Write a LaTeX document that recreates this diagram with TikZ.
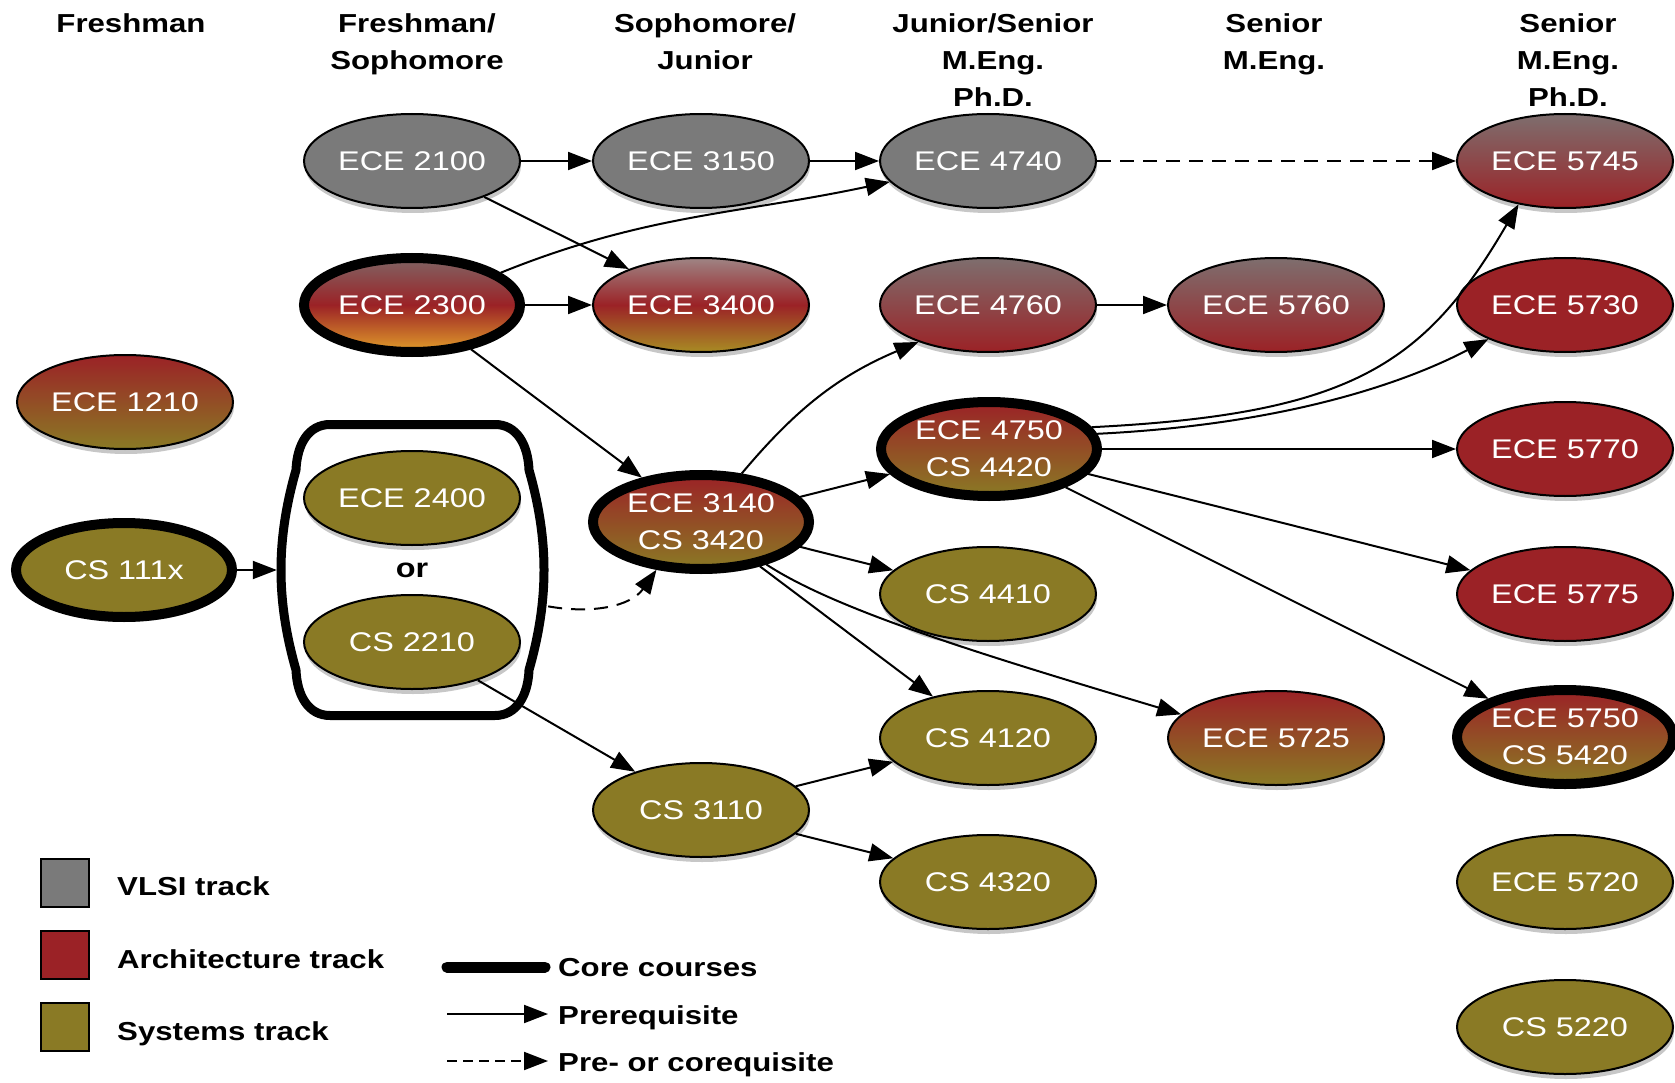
\documentclass[tikz,border=0pt]{standalone}
\usepackage{fontspec}
\setmainfont{Liberation Sans}[FakeStretch=1.2]
\usetikzlibrary{shapes.geometric,arrows.meta,shadows}
\definecolor{vlsi}{RGB}{122,122,122}
\definecolor{arch}{RGB}{155,34,38}
\definecolor{sys}{RGB}{138,122,37}
\definecolor{orng}{RGB}{226,158,42}
\definecolor{rosegray}{RGB}{128,100,100}
\definecolor{lightrose}{RGB}{158,132,132}
\definecolor{goldol}{RGB}{168,140,36}
\definecolor{vlred}{RGB}{126,110,110}
\newcommand\coursefont{\fontsize{26}{37}\selectfont}
\newcommand\nodetextfont{\fontsize{27}{37}\selectfont}
\begin{document}
\begin{tikzpicture}[x=1pt,y=1pt,
  course/.style={ellipse, draw=black, line width=2pt, minimum width=216pt, minimum height=94pt,
    inner sep=0pt, text=white, font=\nodetextfont, align=center,
    drop shadow={shadow xshift=1pt, shadow yshift=-5pt, opacity=0.22, fill=black}},
  core/.style={line width=10pt},
  vl/.style={fill=vlsi},
  ar/.style={fill=arch},
  sy/.style={fill=sys},
  vlar/.style={top color=vlred, bottom color=arch},
  arsy/.style={top color=arch, bottom color=sys},
  tri/.style={top color=rosegray, bottom color=orng, middle color=arch},
  trib/.style={top color=lightrose, bottom color=goldol, middle color=arch},
  arr/.style={-{Triangle[length=24pt,width=18pt]}, line width=2pt},
  coreq/.style={dashed, dash pattern=on 14pt off 9pt},
  hdr/.style={font=\coursefont\bfseries, align=center, anchor=north, inner sep=0pt},
  legtxt/.style={font=\coursefont\bfseries, anchor=base west, inner sep=0pt},
  legsq/.style={draw=black, line width=2pt, minimum width=48pt, minimum height=48pt, inner sep=0pt}
]
\useasboundingbox (0,0) rectangle (1675,-1083);

% headers
\node[hdr] (h1) at (131,-13) {Freshman};
\node[hdr] (h2) at (417,-13) {Freshman/\\Sophomore};
\node[hdr] (h3) at (705,-13) {Sophomore/\\Junior};
\node[hdr] (h4) at (993,-13) {Junior/Senior\\M.Eng.\\Ph.D.};
\node[hdr] (h5) at (1274,-13) {Senior\\M.Eng.};
\node[hdr] (h6) at (1568,-13) {Senior\\M.Eng.\\Ph.D.};

% or-box
\node[inner sep=0pt, minimum width=271pt, minimum height=295pt] (box) at (412.5,-570) {};
\draw[line width=9pt, line join=round]
  (330,-424.5) -- (495,-424.5) .. controls (517,-424.5) and (528,-445) .. (529,-470)
  .. controls (549,-540) and (549,-600) .. (529,-670)
  .. controls (528,-695) and (517,-715.5) .. (495,-715.5) -- (330,-715.5)
  .. controls (308,-715.5) and (297,-695) .. (296,-670)
  .. controls (276,-600) and (276,-540) .. (296,-470)
  .. controls (297,-445) and (308,-424.5) .. (330,-424.5) -- cycle;
\node[font=\nodetextfont\bfseries, inner sep=0pt] (or) at (412,-570) {or};

% courses
\node[course,vl] (e2100) at (412,-161) {ECE 2100};
\node[course,vl] (e3150) at (701,-161) {ECE 3150};
\node[course,vl] (e4740) at (988,-161) {ECE 4740};
\node[course,vlar] (e5745) at (1565,-161) {ECE 5745};

\node[course,core,tri] (e2300) at (412,-305) {ECE 2300};
\node[course,trib] (e3400) at (701,-305) {ECE 3400};
\node[course,vlar] (e4760) at (988,-305) {ECE 4760};
\node[course,vlar] (e5760) at (1276,-305) {ECE 5760};
\node[course,ar] (e5730) at (1565,-305) {ECE 5730};

\node[course,arsy] (e1210) at (125,-402) {ECE 1210};
\node[course,core,arsy] (e4750) at (989,-449) {ECE 4750\\CS 4420};
\node[course,ar] (e5770) at (1565,-449) {ECE 5770};

\node[course,sy] (e2400) at (412,-498) {ECE 2400};
\node[course,core,arsy] (e3140) at (701,-522) {ECE 3140\\CS 3420};
\node[course,core,sy] (cs111x) at (124,-570) {CS 111x};
\node[course,sy] (cs4410) at (988,-594) {CS 4410};
\node[course,ar] (e5775) at (1565,-594) {ECE 5775};
\node[course,sy] (cs2210) at (412,-642) {CS 2210};

\node[course,sy] (cs4120) at (988,-738) {CS 4120};
\node[course,arsy] (e5725) at (1276,-738) {ECE 5725};
\node[course,core,arsy] (e5750) at (1565,-737) {ECE 5750\\CS 5420};
\node[course,sy] (cs3110) at (701,-810) {CS 3110};
\node[course,sy] (cs4320) at (988,-882) {CS 4320};
\node[course,sy] (e5720) at (1565,-882) {ECE 5720};
\node[course,sy] (cs5220) at (1565,-1027) {CS 5220};

% connectors
\draw[arr] (e2100) -- (e3150);
\draw[arr] (e2100) -- (e3400);
\draw[arr] (e3150) -- (e4740);
\draw[arr] (e2300.20) to[out=22,in=192] (e4740.192);
\draw[arr] (e2300) -- (e3400);
\draw[arr] (e2300) -- (e3140);
\draw[arr,coreq] (e4740) -- (e5745);
\draw[arr] (e4760) -- (e5760);
\draw[arr] (e3140.50) to[out=50,in=203] (e4760.208);
\draw[arr] (e3140) -- (e4750);
\draw[arr] (e3140) -- (cs4410);
\draw[arr] (e3140) -- (cs4120);
\draw[arr] (e3140.-33) .. controls +(70,-46) and +(-197,59) .. (e5725.166);
\draw[arr] (cs111x) -- (box.west);
\draw[arr,coreq] (box.-15) to[out=-10,in=-125] (e3140.-133);
\draw[arr] (cs2210) -- (cs3110);
\draw[arr] (cs3110) -- (cs4120);
\draw[arr] (cs3110) -- (cs4320);
\draw[arr] (e4750.12) .. controls +(259,13) and +(-94,-161) .. (e5745.223);
\draw[arr] (e4750.8) .. controls +(183,9) and +(-88,-46) .. (e5730.204);
\draw[arr] (e4750) -- (e5770);
\draw[arr] (e4750) -- (e5775);
\draw[arr] (e4750) -- (e5750);

% legend
\node[legsq, fill=vlsi] (sqv) at (65,-883) {};
\node[legsq, fill=arch] (sqa) at (65,-955) {};
\node[legsq, fill=sys] (sqs) at (65,-1027) {};
\node[legtxt] (tv) at (117,-895) {VLSI track};
\node[legtxt] (ta) at (117,-968) {Architecture track};
\node[legtxt] (ts) at (117,-1040) {Systems track};

\coordinate (l1a) at (447,-967);
\coordinate (l1b) at (545,-967);
\coordinate (l2a) at (447,-1014);
\coordinate (l2b) at (548,-1014);
\coordinate (l3a) at (447,-1061);
\coordinate (l3b) at (548,-1061);
\draw[line width=11pt, line cap=round] (l1a) -- (l1b);
\draw[arr] (l2a) -- (l2b);
\draw[arr,coreq, dash pattern=on 10pt off 6pt] (l3a) -- (l3b);
\node[legtxt] (tc) at (558,-976) {Core courses};
\node[legtxt] (tp) at (558,-1024) {Prerequisite};
\node[legtxt] (tq) at (558,-1071) {Pre- or corequisite};
\end{tikzpicture}
\end{document}
